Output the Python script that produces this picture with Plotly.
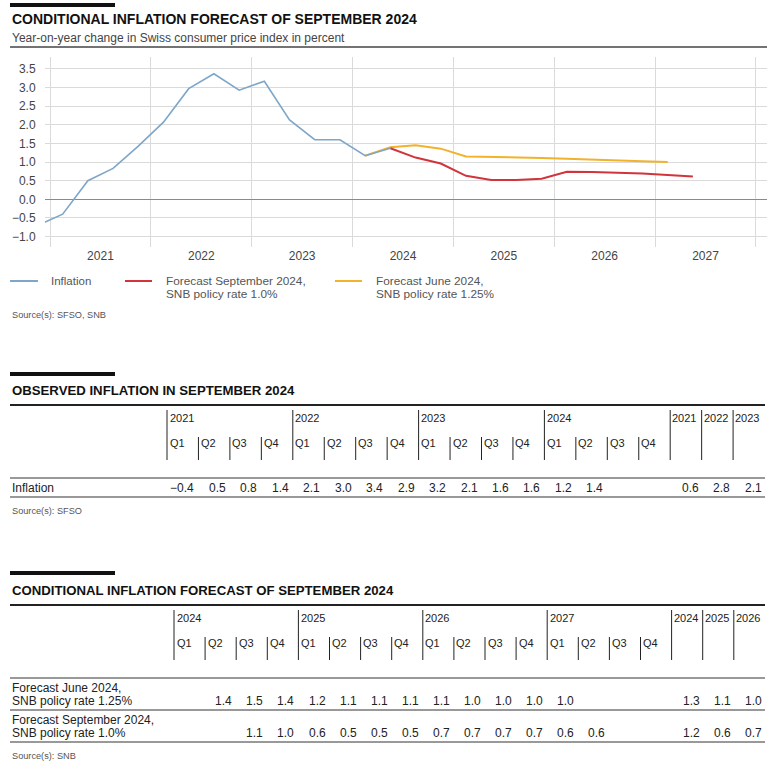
import plotly.graph_objects as go

W, H = 772, 762

# ---------------- chart data ----------------
infl_quarters = ["2020Q4", "2021Q1", "2021Q2", "2021Q3", "2021Q4", "2022Q1", "2022Q2", "2022Q3",
                 "2022Q4", "2023Q1", "2023Q2", "2023Q3", "2023Q4", "2024Q1", "2024Q2"]
infl_values = [-0.7, -0.4, 0.5, 0.83, 1.43, 2.07, 2.97, 3.37, 2.93, 3.17, 2.13, 1.6, 1.6, 1.17, 1.37]

sep_quarters = ["2024Q2", "2024Q3", "2024Q4", "2025Q1", "2025Q2", "2025Q3", "2025Q4",
                "2026Q1", "2026Q2", "2026Q3", "2026Q4", "2027Q1", "2027Q2"]
sep_values = [1.37, 1.12, 0.96, 0.63, 0.52, 0.52, 0.55, 0.74, 0.73, 0.72, 0.69, 0.65, 0.61]

jun_quarters = ["2024Q1", "2024Q2", "2024Q3", "2024Q4", "2025Q1", "2025Q2", "2025Q3", "2025Q4",
                "2026Q1", "2026Q2", "2026Q3", "2026Q4", "2027Q1"]
jun_values = [1.17, 1.40, 1.45, 1.36, 1.15, 1.14, 1.13, 1.11, 1.09, 1.06, 1.04, 1.02, 1.00]

year_labels = ["2021", "2022", "2023", "2024", "2025", "2026", "2027"]
y_ticks = [-1.0, -0.5, 0.0, 0.5, 1.0, 1.5, 2.0, 2.5, 3.0, 3.5]

# ---------------- table data ----------------
quarter_labels = ["Q1", "Q2", "Q3", "Q4"]

obs_years = ["2021", "2022", "2023", "2024"]
obs_values = [-0.4, 0.5, 0.8, 1.4, 2.1, 3.0, 3.4, 2.9, 3.2, 2.1, 1.6, 1.6, 1.2, 1.4, None, None]
obs_annual_years = ["2021", "2022", "2023"]
obs_annual_values = [0.6, 2.8, 2.1]

fc_years = ["2024", "2025", "2026", "2027"]
fc_june_values = [None, 1.4, 1.5, 1.4, 1.2, 1.1, 1.1, 1.1, 1.1, 1.0, 1.0, 1.0, 1.0, None, None, None]
fc_sep_values = [None, None, 1.1, 1.0, 0.6, 0.5, 0.5, 0.5, 0.7, 0.7, 0.7, 0.7, 0.6, 0.6, None, None]
fc_annual_years = ["2024", "2025", "2026"]
fc_june_annual = [1.3, 1.1, 1.0]
fc_sep_annual = [1.2, 0.6, 0.7]

BLUE = "#7ea6c9"
RED = "#d2343b"
YELLOW = "#f2b22c"
FONT = "Liberation Sans, Arial, sans-serif"


def qx(label):
    year = int(label[:4])
    q = int(label[-1])
    return year + (q - 0.5) / 4.0


def fmt(v):
    return f"{v:.1f}".replace("-", "\u2212")


def px(x):
    return x / W


def py(y):
    return 1 - y / H


fig = go.Figure()
fig.add_trace(go.Scatter(x=[qx(q) for q in jun_quarters], y=jun_values, mode="lines",
                         line=dict(color=YELLOW, width=2), hoverinfo="skip"))
fig.add_trace(go.Scatter(x=[qx(q) for q in sep_quarters], y=sep_values, mode="lines",
                         line=dict(color=RED, width=2), hoverinfo="skip"))
fig.add_trace(go.Scatter(x=[qx(q) for q in infl_quarters], y=infl_values, mode="lines",
                         line=dict(color=BLUE, width=1.6), hoverinfo="skip"))

shapes = []
ann = []


def text(x, y, s, size=11, color="#222", bold=False, xanchor="left", font=FONT):
    if bold:
        s = "<b>" + s + "</b>"
    ann.append(dict(x=px(x), y=py(y), xref="paper", yref="paper", text=s, showarrow=False,
                    xanchor=xanchor, yanchor="middle", font=dict(family=font, size=size, color=color),
                    borderpad=0))


def hline(x0, x1, y, color="#222", width=1):
    shapes.append(dict(type="line", xref="paper", yref="paper", x0=px(x0), x1=px(x1),
                       y0=py(y), y1=py(y), line=dict(color=color, width=width)))


def vline(x, y0, y1, color="#222", width=1):
    shapes.append(dict(type="line", xref="paper", yref="paper", x0=px(x), x1=px(x),
                       y0=py(y0), y1=py(y1), line=dict(color=color, width=width)))


def bar(y):
    shapes.append(dict(type="rect", xref="paper", yref="paper", x0=px(10), x1=px(115),
                       y0=py(y + 2), y1=py(y - 2), line=dict(width=0), fillcolor="#111"))


# ---------------- chart header ----------------
bar(5)
text(11, 19, "CONDITIONAL INFLATION FORECAST OF SEPTEMBER 2024", size=14, bold=True, color="#111")
text(11, 38, "Year-on-year change in Swiss consumer price index in percent", size=12, color="#444")
hline(10, 767, 47, color="#444", width=1.5)

# ---------------- legend ----------------
hline(10, 38, 281, color=BLUE, width=2)
text(50, 281, "Inflation", size=11.5, color="#555")
hline(125, 152, 281, color=RED, width=2)
text(165, 281, "Forecast September 2024,", size=11.8, color="#555")
text(165, 294, "SNB policy rate 1.0%", size=11.8, color="#555")
hline(335, 362, 281, color=YELLOW, width=2)
text(375, 281, "Forecast June 2024,", size=11.8, color="#555")
text(375, 294, "SNB policy rate 1.25%", size=11.8, color="#555")
text(11, 315, "Source(s): SFSO, SNB", size=9.2, color="#555")


# ---------------- tables ----------------
def draw_table(bar_y, title, top_y, x0, colw, years, annual_years, rows, source):
    bar(bar_y)
    text(11, top_y - 15, title, size=13.2, bold=True, color="#111")
    hline(10, 765, top_y, color="#222", width=2)
    yr_text = top_y + 13
    q_text = top_y + 38
    line_top = top_y + 5
    q_line_top = top_y + 32
    line_bot = top_y + 55
    for i, yr in enumerate(years):
        xs = x0 + i * 4 * colw
        vline(xs, line_top, line_bot)
        text(xs + 1.5, yr_text, yr, size=11, color="#222")
        for j, ql in enumerate(quarter_labels):
            xq = xs + j * colw
            if j > 0:
                vline(xq, q_line_top, line_bot)
            text(xq + 1.5, q_text, ql, size=11, color="#222")
    xa0 = x0 + 16 * colw
    for k, yr in enumerate(annual_years):
        xs = xa0 + k * colw
        vline(xs, line_top, line_bot)
        text(xs + 1, yr_text, yr, size=11, color="#222")
    y = top_y + 73
    hline(10, 765, y, color="#777", width=1.5)
    for labels, qvals, avals in rows:
        nlines = len(labels)
        ystart = y + 10
        for li, lab in enumerate(labels):
            text(11, ystart + li * 13, lab, size=12, color="#222")
        vy = ystart + (nlines - 1) * 13
        for i, v in enumerate(qvals):
            if v is None:
                continue
            text(x0 + (i + 1) * colw - 3, vy, fmt(v), size=12, color="#222", xanchor="right")
        for k, v in enumerate(avals):
            text(xa0 + (k + 1) * colw - 2, vy, fmt(v), size=12, color="#222", xanchor="right")
        y = vy + 9
        hline(10, 765, y, color="#777", width=1.5)
    text(11, y + 14, source, size=9.2, color="#555")


draw_table(374, "OBSERVED INFLATION IN SEPTEMBER 2024", 405, 167, 31.45,
           obs_years, obs_annual_years,
           [(["Inflation"], obs_values, obs_annual_values)], "Source(s): SFSO")

draw_table(573, "CONDITIONAL INFLATION FORECAST OF SEPTEMBER 2024", 605, 174, 31.1,
           fc_years, fc_annual_years,
           [(["Forecast June 2024,", "SNB policy rate 1.25%"], fc_june_values, fc_june_annual),
            (["Forecast September 2024,", "SNB policy rate 1.0%"], fc_sep_values, fc_sep_annual)],
           "Source(s): SNB")

years_num = [int(y) for y in year_labels]
fig.update_layout(
    width=W, height=H, autosize=False,
    margin=dict(l=0, r=0, t=0, b=0),
    paper_bgcolor="white", plot_bgcolor="white",
    showlegend=False,
    font=dict(family=FONT, color="#444"),
    shapes=shapes, annotations=ann,
    xaxis=dict(domain=[45 / W, 767 / W], range=[2020.95, 2028.11],
               tickvals=[y + 0.5 for y in years_num], ticktext=year_labels,
               showgrid=False, zeroline=False, showline=False, ticks="",
               tickfont=dict(size=12, color="#444"),
               minor=dict(tick0=2021, dtick=1, showgrid=True, gridcolor="#dadada", gridwidth=1, ticks="")),
    yaxis=dict(domain=[1 - 247 / H, 1 - 57 / H], range=[-1.28, 3.82],
               tickvals=y_ticks, ticktext=[fmt(v) for v in y_ticks],
               showgrid=True, gridcolor="#dadada", gridwidth=1,
               zeroline=True, zerolinecolor="#8a8a8a", zerolinewidth=1,
               showline=False, ticks="outside", ticklen=6, tickcolor="rgba(0,0,0,0)",
               tickfont=dict(size=12, color="#444")),
)

fig.write_html("out.html", config={"displayModeBar": False},
               post_script="document.body.style.margin='0';document.body.style.padding='0';"
                           "document.body.style.overflow='hidden';")
